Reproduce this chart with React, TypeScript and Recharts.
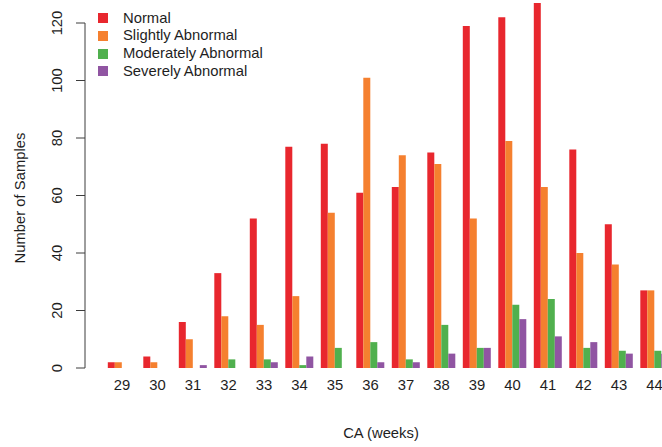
import React from 'react';
import { BarChart, Bar, XAxis, YAxis, Legend, Label } from 'recharts';

const weeks = ['29', '30', '31', '32', '33', '34', '35', '36', '37', '38', '39', '40', '41', '42', '43', '44'];
const normal = [2, 4, 16, 33, 52, 77, 78, 61, 63, 75, 119, 122, 127, 76, 50, 27];
const slightlyAbnormal = [2, 2, 10, 18, 15, 25, 54, 101, 74, 71, 52, 79, 63, 40, 36, 27];
const moderatelyAbnormal = [0, 0, 0, 3, 3, 1, 7, 9, 3, 15, 7, 22, 24, 7, 6, 6];
const severelyAbnormal = [0, 0, 1, 0, 2, 4, 0, 2, 2, 5, 7, 17, 11, 9, 5, 5];
const yTicks = [0, 20, 40, 60, 80, 100, 120];
const seriesKeys = ['normal', 'slightly', 'moderately', 'severely'];
const seriesNames = ['Normal', 'Slightly Abnormal', 'Moderately Abnormal', 'Severely Abnormal'];
const seriesColors = ['#E8272E', '#F5802F', '#50B04E', '#9055A2'];

const data = weeks.map((w, i) => ({
  week: w,
  normal: normal[i],
  slightly: slightlyAbnormal[i],
  moderately: moderatelyAbnormal[i],
  severely: severelyAbnormal[i],
}));

const CHART_W = 680;
const CHART_H = 447;
const PLOT_TOP = 0;
const PLOT_BOTTOM = 368;
const PLOT_LEFT = 104.25;
const PLOT_RIGHT = 672.25;
const Y_MAX = 128;
const PX_PER_UNIT = (PLOT_BOTTOM - PLOT_TOP) / Y_MAX;
const AXIS_X = 85;
const FONT = '"Liberation Sans", Arial, Helvetica, sans-serif';
const FS = 14.8;
const TEXT_COLOR = '#1e1e1e';
const AXIS_COLOR = '#3c3c3c';

const YTick = (props: any) => {
  const { y, payload, index } = props;
  const top = yTicks[yTicks.length - 1];
  return (
    <g>
      <line x1={AXIS_X - 9} x2={AXIS_X} y1={y} y2={y} stroke={AXIS_COLOR} strokeWidth={1} />
      {index === 0 && (
        <line x1={AXIS_X} x2={AXIS_X} y1={y} y2={y - (top - payload.value) * PX_PER_UNIT} stroke={AXIS_COLOR} strokeWidth={1} />
      )}
      <text
        x={57}
        y={y}
        transform={`rotate(-90 57 ${y})`}
        textAnchor="middle"
        dominantBaseline="central"
        fontFamily={FONT}
        fontSize={FS}
        fill={TEXT_COLOR}
      >
        {payload.value}
      </text>
    </g>
  );
};

const XTick = (props: any) => {
  const { x, payload } = props;
  return (
    <text x={x} y={390} textAnchor="middle" fontFamily={FONT} fontSize={FS} fill={TEXT_COLOR}>
      {payload.value}
    </text>
  );
};

const LegendContent = () => (
  <div style={{ fontFamily: FONT, fontSize: FS, color: TEXT_COLOR }}>
    {seriesNames.map((name, i) => (
      <div key={name} style={{ display: 'flex', alignItems: 'center', height: 17.7 }}>
        <span style={{ display: 'inline-block', width: 10, height: 10, background: seriesColors[i], marginRight: 15 }} />
        <span style={{ lineHeight: '17.7px', whiteSpace: 'nowrap' }}>{name}</span>
      </div>
    ))}
  </div>
);

export default function App() {
  return (
    <div style={{ position: 'absolute', left: 0, top: 0, width: 662, height: 447, overflow: 'hidden', background: '#fff' }}>
      <BarChart
        width={CHART_W}
        height={CHART_H}
        data={data}
        margin={{ top: PLOT_TOP, right: CHART_W - PLOT_RIGHT, bottom: 0, left: 0 }}
        barCategoryGap="10%"
        barGap={0}
      >
        <XAxis
          dataKey="week"
          axisLine={false}
          tickLine={false}
          height={CHART_H - PLOT_BOTTOM}
          tick={<XTick />}
          interval={0}
        >
          <Label
            content={() => (
              <text x={381} y={438} textAnchor="middle" fontFamily={FONT} fontSize={FS} fill={TEXT_COLOR}>
                CA (weeks)
              </text>
            )}
          />
        </XAxis>
        <YAxis
          type="number"
          domain={[0, Y_MAX]}
          ticks={yTicks}
          width={PLOT_LEFT}
          axisLine={false}
          tickLine={false}
          tick={<YTick />}
          allowDataOverflow
        >
          <Label
            content={() => (
              <text
                x={20}
                y={198}
                transform="rotate(-90 20 198)"
                textAnchor="middle"
                dominantBaseline="central"
                fontFamily={FONT}
                fontSize={FS}
                fill={TEXT_COLOR}
              >
                Number of Samples
              </text>
            )}
          />
        </YAxis>
        <Legend
          layout="vertical"
          align="center"
          verticalAlign="middle"
          content={<LegendContent />}
          wrapperStyle={{ left: 98, top: 9.5, width: 'auto' }}
        />
        {seriesKeys.map((k, i) => (
          <Bar key={k} dataKey={k} name={seriesNames[i]} fill={seriesColors[i]} isAnimationActive={false} />
        ))}
      </BarChart>
    </div>
  );
}
